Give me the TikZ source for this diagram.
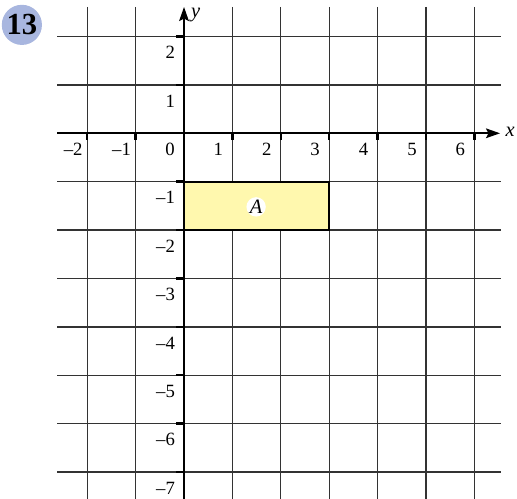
\documentclass[tikz,border=0pt]{standalone}
\usepackage{fontspec}
\setmainfont{Liberation Serif}
\usetikzlibrary{arrows.meta}
\definecolor{badgeblue}{HTML}{A8B6DF}
\definecolor{rectyellow}{HTML}{FFF8AE}
\tikzset{
  gridline/.style={draw=black!80, line width=0.75pt},
  axisline/.style={draw=black, line width=1pt, -{Stealth[length=0.29cm,width=0.2cm,inset=0.05cm]}},
  tickline/.style={draw=black, line width=1.4pt},
  xlab/.style={inner sep=0pt, anchor=north, font=\fontsize{11}{13}\selectfont},
  ylab/.style={inner sep=0pt, anchor=east, font=\fontsize{11}{13}\selectfont},
  axlab/.style={inner sep=0pt, font=\fontsize{12}{14}\selectfont\itshape},
  badge/.style={circle, fill=badgeblue, minimum size=0.83cm, inner sep=0pt, font=\fontsize{18}{20}\selectfont\bfseries},
  region/.style={draw=black, line width=1.2pt, fill=rectyellow},
  reglab/.style={circle, fill=white, inner sep=0pt, minimum size=0.4cm, font=\fontsize{12}{14}\selectfont\itshape}
}
\begin{document}
\begin{tikzpicture}[x=1cm,y=1cm]
\useasboundingbox (-3.802,-7.556) rectangle (6.880,2.754);
% badge
\node[badge] (badge) at (-3.35,2.24) {13};
% grid
\foreach \k in {-2,-1,1,2,3,4,5,6} {
  \draw[gridline] (\k,2.61) -- (\k,-7.6);
}
\foreach \k in {2,1,-1,-2,-3,-4,-5,-6,-7} {
  \draw[gridline] (-2.62,\k) -- (6.55,\k);
}
% region A
\draw[region] (0,-1) rectangle (3,-2);
% axes
\coordinate (xs) at (-2.62,0);
\coordinate (xe) at (6.53,0);
\coordinate (ys) at (0,-7.6);
\coordinate (ye) at (0,2.61);
\draw[axisline] (xs) -- (xe);
\draw[axisline] (ys) -- (ye);
\node[axlab] (xlabel) at (6.74,0.03) {x};
\node[axlab] (ylabel) at (0.24,2.44) {y};
% ticks
\foreach \k in {-2,-1,1,2,3,4,5,6} {
  \draw[tickline] (\k,0) -- (\k,-0.14);
}
\foreach \k in {2,1,-1,-2,-3,-4,-5,-6,-7} {
  \draw[tickline] (0,\k) -- (-0.17,\k);
}
% labels
\foreach \k/\t in {-2/{–2},-1/{–1},0/0,1/1,2/2,3/3,4/4,5/5,6/6} {
  \node[xlab] (xl\k) at (\k-0.29,-0.2) {\t};
}
\foreach \k/\t in {2/2,1/1,-1/{–1},-2/{–2},-3/{–3},-4/{–4},-5/{–5},-6/{–6},-7/{–7}} {
  \node[ylab] (yl\k) at (-0.18,\k-0.33) {\t};
}
\node[reglab] (A) at (1.49,-1.52) {A};
\end{tikzpicture}
\end{document}
